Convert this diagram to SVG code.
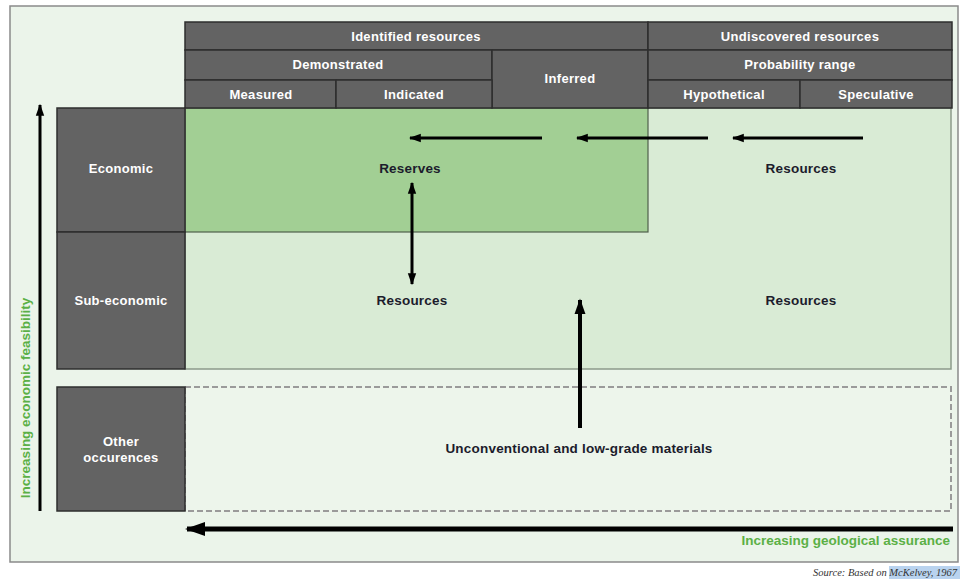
<svg xmlns="http://www.w3.org/2000/svg" width="960" height="579" viewBox="0 0 960 579">
<style>
.hdr{fill:#636363;stroke:#2e2e2e;stroke-width:1.5}
.ht{font-family:"Liberation Sans",Arial,sans-serif;font-weight:bold;font-size:13px;fill:#ffffff;text-anchor:middle;letter-spacing:0.3px}
.bt{font-family:"Liberation Sans",Arial,sans-serif;font-weight:bold;font-size:13.5px;fill:#1c1c2c;text-anchor:middle;letter-spacing:0.2px}
.gt{font-family:"Liberation Sans",Arial,sans-serif;font-weight:bold;font-size:13.5px;fill:#5bb046}
.ar{stroke:#000;fill:none}
</style>
<defs>
<marker id="ah" viewBox="0 0 10 10" refX="9" refY="5" markerWidth="4" markerHeight="4" orient="auto-start-reverse" markerUnits="strokeWidth">
<path d="M0,1.5 L10,5 L0,8.5 Z" fill="#000"/>
</marker>
</defs>
<rect width="960" height="579" fill="#ffffff"/>
<rect id="frame" x="10" y="6" width="948" height="556" fill="#ebf4ea" stroke="#8a8a8a" stroke-width="1.5"/>

<g id="sub-economic-area">
<rect x="185" y="108" width="766" height="261" fill="#d9ebd5" stroke="#8c9a8a" stroke-width="1.5"/>
</g>
<g id="reserves-area">
<rect x="185" y="108" width="463" height="124" fill="#a2cf94" stroke="#4f5f4c" stroke-width="1.2"/>
</g>
<g id="other-area">
<rect x="185" y="387" width="766" height="124" fill="#edf5eb" stroke="#9a9a9a" stroke-width="2" stroke-dasharray="6,3"/>
</g>

<g id="h-identified"><rect class="hdr" x="185" y="22" width="463" height="28"/><text class="ht" x="416" y="41">Identified resources</text></g>
<g id="h-undiscovered"><rect class="hdr" x="648" y="22" width="304" height="28"/><text class="ht" x="800" y="41">Undiscovered resources</text></g>
<g id="h-demonstrated"><rect class="hdr" x="185" y="50" width="307" height="30"/><text class="ht" x="338" y="69">Demonstrated</text></g>
<g id="h-inferred"><rect class="hdr" x="492" y="50" width="156" height="58"/><text class="ht" x="570" y="83">Inferred</text></g>
<g id="h-probability"><rect class="hdr" x="648" y="50" width="304" height="30"/><text class="ht" x="800" y="69">Probability range</text></g>
<g id="h-measured"><rect class="hdr" x="185" y="80" width="151" height="28"/><text class="ht" x="261" y="99">Measured</text></g>
<g id="h-indicated"><rect class="hdr" x="336" y="80" width="156" height="28"/><text class="ht" x="414" y="99">Indicated</text></g>
<g id="h-hypothetical"><rect class="hdr" x="648" y="80" width="152" height="28"/><text class="ht" x="724" y="99">Hypothetical</text></g>
<g id="h-speculative"><rect class="hdr" x="800" y="80" width="152" height="28"/><text class="ht" x="876" y="99">Speculative</text></g>

<g id="r-economic"><rect class="hdr" x="57" y="108" width="128" height="124"/><text class="ht" x="121" y="173">Economic</text></g>
<g id="r-subeconomic"><rect class="hdr" x="57" y="232" width="128" height="137"/><text class="ht" x="121" y="305">Sub-economic</text></g>
<g id="r-other"><rect class="hdr" x="57" y="387" width="128" height="124"/><text class="ht" x="121" y="446">Other</text><text class="ht" x="121" y="462">occurences</text></g>

<g id="l-reserves"><text class="bt" x="410" y="173">Reserves</text></g>
<g id="l-resources-econ"><text class="bt" x="801" y="173">Resources</text></g>
<g id="l-resources-sub1"><text class="bt" x="412" y="305">Resources</text></g>
<g id="l-resources-sub2"><text class="bt" x="801" y="305">Resources</text></g>
<g id="l-unconventional"><text class="bt" x="579" y="453">Unconventional and low-grade materials</text></g>

<g id="connectors">
<line class="ar" x1="542" y1="138" x2="410" y2="138" stroke-width="3" marker-end="url(#ah)"/>
<line class="ar" x1="708" y1="138" x2="577" y2="138" stroke-width="3" marker-end="url(#ah)"/>
<line class="ar" x1="863" y1="138" x2="733" y2="138" stroke-width="3" marker-end="url(#ah)"/>
<line class="ar" x1="412" y1="183" x2="412" y2="284" stroke-width="3" marker-start="url(#ah)" marker-end="url(#ah)"/>
<line class="ar" x1="580" y1="428" x2="580" y2="300" stroke-width="4" marker-end="url(#ah)"/>
<line class="ar" x1="40" y1="511" x2="40" y2="105" stroke-width="3" marker-end="url(#ah)"/>
<line class="ar" x1="953" y1="529" x2="187" y2="529" stroke-width="5" marker-end="url(#ah)"/>
</g>

<g id="axis-labels">
<text class="gt" transform="translate(30,398) rotate(-90)" text-anchor="middle" font-size="14">Increasing economic feasibility</text>
<text class="gt" x="950" y="545" text-anchor="end">Increasing geological assurance</text>
</g>

<g id="source">
<rect x="889" y="566" width="71" height="13" fill="#b9d3ef"/>
<text x="957" y="576" font-family="Liberation Serif,serif" font-style="italic" font-size="10.5" fill="#333" text-anchor="end">Source: Based on McKelvey, 1967</text>
</g>
</svg>
